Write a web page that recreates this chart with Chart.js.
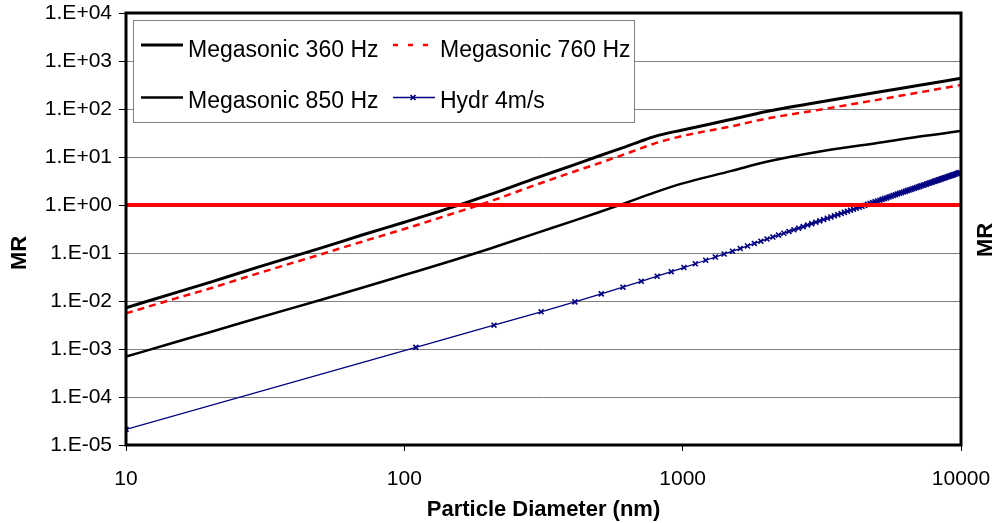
<!DOCTYPE html>
<html><head><meta charset="utf-8">
<script src="https://cdn.jsdelivr.net/npm/chart.js@4.4.1/dist/chart.umd.min.js"></script>
<style>html,body{margin:0;padding:0;background:#fff;}canvas{display:block;}</style>
</head><body>
<canvas id="c" width="992" height="523"></canvas>
<script>
// ---- data ----
const xTickValues = [10, 100, 1000, 10000];
const yTickValues = [1e-5, 1e-4, 1e-3, 1e-2, 1e-1, 1, 1e1, 1e2, 1e3, 1e4];
const seriesNames = ['Megasonic 360 Hz', 'Megasonic 760 Hz', 'Megasonic 850 Hz', 'Hydr 4m/s'];
const xTitle = 'Particle Diameter (nm)';
const yTitle = 'MR';

const megX = [10, 15, 20, 30, 50, 70, 100, 150, 200, 300, 400, 500, 600, 700, 800, 1000, 1500, 2000, 3000, 5000, 7000, 10000];
const mega360 = [7.24e-3, 1.48e-2, 2.45e-2, 5.13e-2, 0.126, 0.234, 0.437, 0.912, 1.60, 3.72, 6.61, 10.5, 15.1, 20.9, 27.2, 36.6, 61.0, 89.1, 135, 224, 309, 437];
const mega760 = [5.53e-3, 1.12e-2, 1.82e-2, 3.80e-2, 9.33e-2, 0.170, 0.316, 0.668, 1.15, 2.69, 4.79, 7.41, 10.7, 14.8, 19.5, 27.5, 43.7, 63.1, 93.3, 155, 219, 316];
const mega850 = [6.92e-4, 1.38e-3, 2.24e-3, 4.47e-3, 1.05e-2, 1.86e-2, 3.47e-2, 7.08e-2, 0.120, 0.263, 0.457, 0.708, 1.02, 1.41, 1.86, 2.82, 5.13, 7.94, 12.6, 19.5, 26.3, 34.7];

const hydrX = [10, 110, 210, 310, 410, 510, 610, 710, 810, 910,
  1010, 1110, 1210, 1310, 1410, 1510, 1610, 1710, 1810, 1910,
  2010, 2110, 2210, 2310, 2410, 2510, 2610, 2710, 2810, 2910,
  3010, 3110, 3210, 3310, 3410, 3510, 3610, 3710, 3810, 3910,
  4010, 4110, 4210, 4310, 4410, 4510, 4610, 4710, 4810, 4910,
  5010, 5110, 5210, 5310, 5410, 5510, 5610, 5710, 5810, 5910,
  6010, 6110, 6210, 6310, 6410, 6510, 6610, 6710, 6810, 6910,
  7010, 7110, 7210, 7310, 7410, 7510, 7610, 7710, 7810, 7910,
  8010, 8110, 8210, 8310, 8410, 8510, 8610, 8710, 8810, 8910,
  9010, 9110, 9210, 9310, 9410, 9510, 9610, 9710, 9810, 9910];
const hydrY = [2.12e-5, 1.08e-3, 3.13e-3, 5.95e-3, 9.60e-3, 1.41e-2, 1.94e-2, 2.57e-2, 3.28e-2, 4.08e-2,
  4.98e-2, 5.97e-2, 7.06e-2, 8.25e-2, 9.54e-2, 0.109, 0.124, 0.140, 0.158, 0.176,
  0.195, 0.215, 0.236, 0.258, 0.281, 0.304, 0.329, 0.355, 0.382, 0.409,
  0.438, 0.467, 0.498, 0.529, 0.562, 0.595, 0.630, 0.665, 0.701, 0.739,
  0.777, 0.816, 0.856, 0.897, 0.940, 0.983, 1.03, 1.07, 1.12, 1.16,
  1.21, 1.26, 1.31, 1.36, 1.41, 1.47, 1.52, 1.58, 1.63, 1.69,
  1.75, 1.80, 1.86, 1.92, 1.99, 2.05, 2.11, 2.18, 2.24, 2.31,
  2.37, 2.44, 2.51, 2.58, 2.65, 2.72, 2.80, 2.87, 2.95, 3.02,
  3.10, 3.18, 3.26, 3.34, 3.42, 3.50, 3.58, 3.67, 3.75, 3.84,
  3.92, 4.01, 4.10, 4.19, 4.28, 4.37, 4.46, 4.55, 4.65, 4.74];

const thresholdX = [10, 10000];
const thresholdY = [1, 1];

// ---- helpers ----
const FONT = '"Liberation Sans", Arial, sans-serif';
function pts(xs, ys) { return xs.map((x, i) => ({ x: x, y: ys[i] })); }
function sciLabel(v) {
  const e = Math.round(Math.log10(v));
  return '1.E' + (e >= 0 ? '+' : '-') + String(Math.abs(e)).padStart(2, '0');
}

const datasets = [
  { label: seriesNames[0], data: pts(megX, mega360), borderColor: '#000000', borderWidth: 3, pointRadius: 0, cubicInterpolationMode: 'monotone', order: 2 },
  { label: seriesNames[1], data: pts(megX, mega760), borderColor: '#FF0000', borderWidth: 2.5, borderDash: [7, 5], pointRadius: 0, cubicInterpolationMode: 'monotone', order: 3 },
  { label: seriesNames[2], data: pts(megX, mega850), borderColor: '#000000', borderWidth: 2.5, pointRadius: 0, cubicInterpolationMode: 'monotone', order: 4 },
  { label: seriesNames[3], data: pts(hydrX, hydrY), borderColor: '#000080', borderWidth: 1.3, pointStyle: 'crossRot', pointRadius: 3.5, pointBorderWidth: 1.6, pointBorderColor: '#000080', pointBackgroundColor: '#000080', order: 5 },
  { label: 'MR = 1', data: pts(thresholdX, thresholdY), borderColor: '#FF0000', borderWidth: 4, pointRadius: 0, order: 1 }
];

const legendPlugin = {
  id: 'boxLegend',
  afterDatasetsDraw(chart) {
    const ctx = chart.ctx;
    ctx.save();
    const bx = 133.5, by = 20.5, bw = 501, bh = 102;
    ctx.fillStyle = '#ffffff';
    ctx.fillRect(bx, by, bw, bh);
    ctx.strokeStyle = '#808080';
    ctx.lineWidth = 1;
    ctx.strokeRect(bx, by, bw, bh);
    const items = [
      { ds: 0, x: 141, ly: 45, ty: 57 },
      { ds: 1, x: 393, ly: 45, ty: 57 },
      { ds: 2, x: 141, ly: 97.5, ty: 108 },
      { ds: 3, x: 393, ly: 97.5, ty: 108 }
    ];
    items.forEach(it => {
      const d = chart.data.datasets[it.ds];
      ctx.beginPath();
      ctx.strokeStyle = d.borderColor;
      ctx.lineWidth = d.borderWidth;
      ctx.setLineDash(it.ds === 1 ? [5, 10] : []);
      ctx.moveTo(it.x, it.ly);
      ctx.lineTo(it.x + 42, it.ly);
      ctx.stroke();
      ctx.setLineDash([]);
      if (it.ds === 3) {
        const cx = it.x + 20, cy = it.ly, r = 2.5;
        ctx.beginPath();
        ctx.lineWidth = 1.6;
        ctx.moveTo(cx - r, cy - r); ctx.lineTo(cx + r, cy + r);
        ctx.moveTo(cx + r, cy - r); ctx.lineTo(cx - r, cy + r);
        ctx.stroke();
      }
      ctx.fillStyle = '#000000';
      ctx.font = '23px ' + FONT;
      ctx.textBaseline = 'alphabetic';
      ctx.textAlign = 'left';
      ctx.fillText(d.label, it.x + 47, it.ty);
    });
    ctx.restore();
  }
};

const framePlugin = {
  id: 'frame',
  afterDraw(chart) {
    const a = chart.chartArea;
    const ctx = chart.ctx;
    ctx.save();
    ctx.strokeStyle = '#000000';
    ctx.lineWidth = 3;
    ctx.strokeRect(a.left, a.top, a.right - a.left, a.bottom - a.top);
    ctx.fillStyle = '#000000';
    ctx.font = 'bold 22px ' + FONT;
    ctx.textAlign = 'center';
    ctx.textBaseline = 'middle';
    ctx.translate(20, 253);
    ctx.rotate(-Math.PI / 2);
    ctx.fillText(yTitle, 0, 0);
    ctx.restore();
    ctx.save();
    ctx.fillStyle = '#000000';
    ctx.font = 'bold 22px ' + FONT;
    ctx.textAlign = 'center';
    ctx.textBaseline = 'middle';
    ctx.translate(986, 240);
    ctx.rotate(-Math.PI / 2);
    ctx.fillText(yTitle, 0, 0);
    ctx.restore();
  }
};

new Chart(document.getElementById('c'), {
  type: 'line',
  data: { datasets: datasets },
  plugins: [legendPlugin, framePlugin],
  options: {
    responsive: false,
    animation: false,
    layout: { padding: { left: 0, right: 31, top: 13, bottom: 0 } },
    plugins: { legend: { display: false }, tooltip: { enabled: false } },
    scales: {
      x: {
        type: 'logarithmic', position: 'bottom', min: 10, max: 10000,
        afterBuildTicks: s => { s.ticks = xTickValues.map(v => ({ value: v })); },
        afterFit: s => { s.height = 78; s.paddingLeft = 0; s.paddingRight = 0; },
        ticks: { callback: v => String(v), color: '#000', font: { family: FONT, size: 21 }, padding: 16, maxRotation: 0, autoSkip: false },
        grid: { drawOnChartArea: false, drawTicks: true, tickLength: 6, color: '#000', lineWidth: 1 },
        border: { display: false },
        title: { display: true, text: xTitle, color: '#000', font: { family: FONT, size: 22, weight: 'bold' }, padding: { top: 0, bottom: 0 } }
      },
      y: {
        type: 'logarithmic', position: 'left', min: 1e-5, max: 1e4,
        afterBuildTicks: s => { s.ticks = yTickValues.map(v => ({ value: v })); },
        afterFit: s => { s.width = 126; s.paddingTop = 0; s.paddingBottom = 0; },
        ticks: { callback: v => sciLabel(v), color: '#000', font: { family: FONT, size: 21 }, padding: 7, autoSkip: false },
        grid: { color: '#808080', tickColor: '#000', tickLength: 7, lineWidth: 1 },
        border: { display: false }
      }
    }
  }
});
</script>
</body></html>
